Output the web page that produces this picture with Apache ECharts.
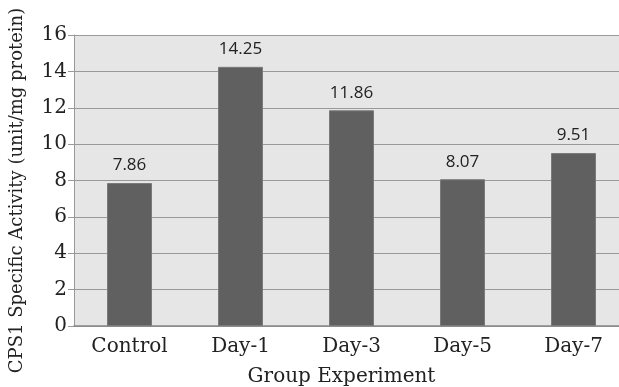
<!DOCTYPE html>
<html><head><meta charset="utf-8">
<script src="https://cdn.jsdelivr.net/npm/echarts@6/dist/echarts.min.js"></script>
<style>html,body{margin:0;padding:0;background:#fff}#c{width:619px;height:387px}</style>
</head><body><div id="c"></div>
<script>
var categories = ['Control', 'Day-1', 'Day-3', 'Day-5', 'Day-7'];
var values = [7.86, 14.25, 11.86, 8.07, 9.51];
var yTicks = [0, 2, 4, 6, 8, 10, 12, 14, 16];

var serif = 'DejaVu Serif';
var chart = echarts.init(document.getElementById('c'));
chart.setOption({
  animation: false,
  grid: { left: 74, top: 35, width: 555, height: 291, backgroundColor: '#e6e6e6', show: true, borderWidth: 0,
    outerBoundsMode: 'none', containLabel: false },
  xAxis: {
    type: 'category', data: categories,
    name: 'Group Experiment', nameLocation: 'middle', nameGap: 41,
    nameTextStyle: { fontFamily: serif, fontSize: 20, color: '#222', padding: [0, 20, 0, 0] },
    axisLine: { lineStyle: { color: '#888', width: 1.5 } },
    axisTick: { show: false },
    axisLabel: { fontFamily: serif, fontSize: 20, color: '#222', margin: 11 }
  },
  yAxis: {
    type: 'value', min: yTicks[0], max: yTicks[yTicks.length - 1], interval: 2,
    name: 'CPS1 Specific Activity (unit/mg protein)', nameLocation: 'middle', nameGap: 48,
    nameTextStyle: { fontFamily: serif, fontSize: 18, color: '#222', padding: [0, 20, 0, 0] },
    axisLine: { show: true, lineStyle: { color: '#999', width: 1 } },
    axisTick: { show: true, length: 6, lineStyle: { color: '#999' } },
    splitLine: { lineStyle: { color: '#999', width: 1 } },
    axisLabel: { fontFamily: serif, fontSize: 20, color: '#222', margin: 7 }
  },
  series: [{
    type: 'bar', data: values, barWidth: 45,
    itemStyle: { color: '#606060', borderColor: '#7a7a7a', borderWidth: 1 },
    label: { show: true, position: 'top', distance: 9, fontFamily: 'Open Sans', fontSize: 17, color: '#222',
      formatter: function (p) { return p.value.toFixed(2); } }
  }]
});
</script></body></html>
